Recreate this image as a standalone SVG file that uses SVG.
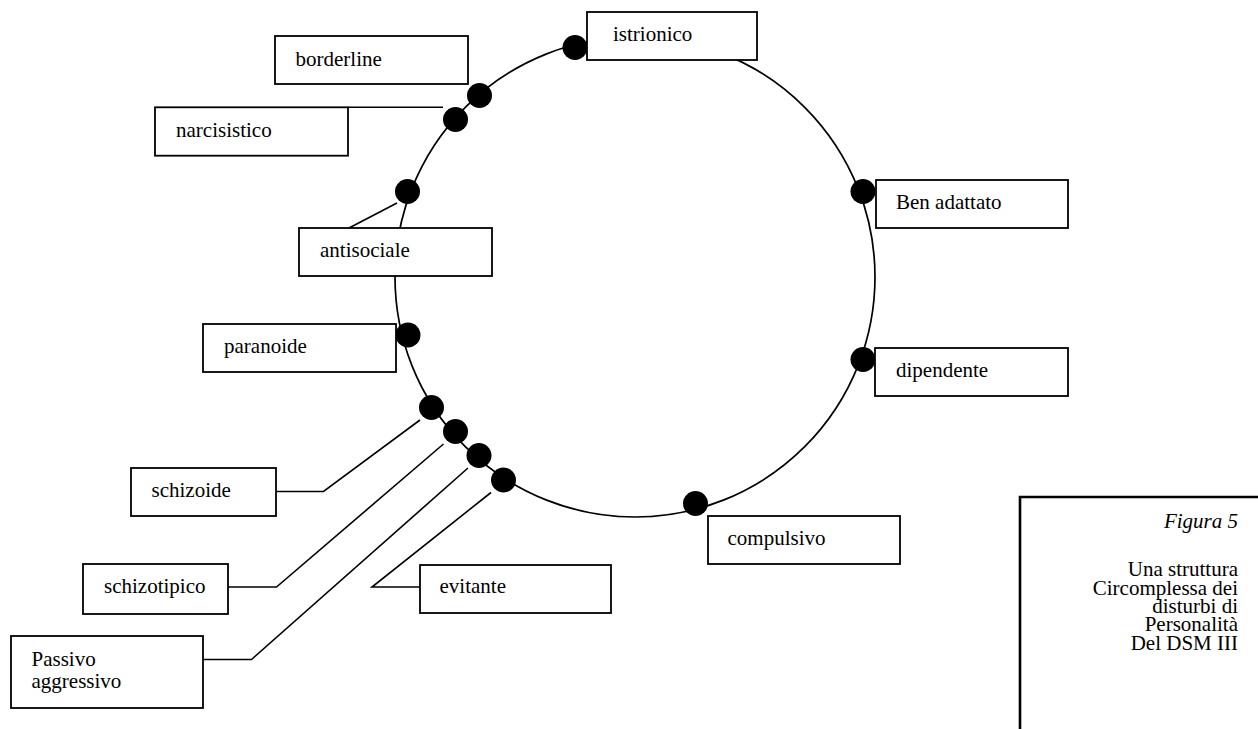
<svg xmlns="http://www.w3.org/2000/svg" width="1258" height="729" viewBox="0 0 1258 729">
<style>
  .box { fill: #ffffff; stroke: #000000; stroke-width: 1.8; }
  .dot { fill: #000000; stroke: none; }
  .lbl { font-family: "Liberation Serif", "Times New Roman", serif; font-size: 21px; fill: #000000; }
  .cap { font-family: "Liberation Serif", "Times New Roman", serif; font-size: 21px; fill: #000000; text-anchor: end; }
  .conn { fill: none; stroke: #000000; stroke-width: 1.6; }
</style>
<rect x="0" y="0" width="1258" height="729" fill="#ffffff"/>
<g id="ring">
  <circle cx="635" cy="277" r="240" fill="none" stroke="#000000" stroke-width="1.7"/>
</g>
<g id="connectors">
  <path class="conn" d="M348,107.3 H443"/>
  <path class="conn" d="M349,228 L397,203"/>
  <path class="conn" d="M276,491.5 H323.5 L420,420"/>
  <path class="conn" d="M228,587 H276.5 L443.5,444"/>
  <path class="conn" d="M203,659.5 H251.5 L468,468"/>
  <path class="conn" d="M491,492.5 L372,587 H420"/>
</g>
<g id="istrionico">
  <circle class="dot" cx="575" cy="47.5" r="12.5"/>
  <rect class="box" x="587" y="12" width="170" height="48"/>
  <text class="lbl" x="613" y="41">istrionico</text>
</g>
<g id="borderline">
  <circle class="dot" cx="479.5" cy="95.5" r="12.5"/>
  <rect class="box" x="275" y="36" width="193" height="48"/>
  <text class="lbl" x="295.5" y="65.5">borderline</text>
</g>
<g id="narcisistico">
  <circle class="dot" cx="455.5" cy="119.5" r="12.5"/>
  <rect class="box" x="155" y="107.3" width="193" height="48.4"/>
  <text class="lbl" x="176" y="136.5">narcisistico</text>
</g>
<g id="antisociale">
  <circle class="dot" cx="407.5" cy="191.5" r="12.5"/>
  <rect class="box" x="299" y="228" width="193" height="48"/>
  <text class="lbl" x="320" y="256.5">antisociale</text>
</g>
<g id="ben-adattato">
  <circle class="dot" cx="863" cy="191.5" r="12.5"/>
  <rect class="box" x="876" y="180" width="192" height="48"/>
  <text class="lbl" x="896" y="208.5">Ben adattato</text>
</g>
<g id="paranoide">
  <circle class="dot" cx="408" cy="335" r="12.5"/>
  <rect class="box" x="203" y="324" width="193" height="48"/>
  <text class="lbl" x="224" y="352.5">paranoide</text>
</g>
<g id="dipendente">
  <circle class="dot" cx="863" cy="359.5" r="12.5"/>
  <rect class="box" x="875" y="348" width="193" height="48"/>
  <text class="lbl" x="896" y="376.5">dipendente</text>
</g>
<g id="schizoide">
  <circle class="dot" cx="431.5" cy="407.5" r="12.5"/>
  <rect class="box" x="131" y="468" width="145" height="48"/>
  <text class="lbl" x="151.5" y="496.5">schizoide</text>
</g>
<g id="schizotipico">
  <circle class="dot" cx="455.5" cy="431.5" r="12.5"/>
  <rect class="box" x="83" y="564" width="145" height="50"/>
  <text class="lbl" x="104" y="592.5">schizotipico</text>
</g>
<g id="passivo-aggressivo">
  <circle class="dot" cx="479" cy="455.5" r="12.5"/>
  <rect class="box" x="11" y="636" width="192" height="72"/>
  <text class="lbl" x="31.5" y="665.5">Passivo</text>
  <text class="lbl" x="31.5" y="688">aggressivo</text>
</g>
<g id="evitante">
  <circle class="dot" cx="503.5" cy="480" r="12.5"/>
  <rect class="box" x="420" y="565" width="191" height="48"/>
  <text class="lbl" x="439.5" y="592.5">evitante</text>
</g>
<g id="compulsivo">
  <circle class="dot" cx="695.5" cy="503.5" r="12.5"/>
  <rect class="box" x="708" y="516" width="192" height="48"/>
  <text class="lbl" x="727.5" y="545">compulsivo</text>
</g>
<g id="caption">
  <path d="M1020,735 V497 H1265" fill="none" stroke="#000000" stroke-width="2.6"/>
  <text class="cap" x="1238" y="527.5" font-style="italic">Figura 5</text>
  <text class="cap" x="1238" y="576">Una struttura</text>
  <text class="cap" x="1238" y="594.5">Circomplessa dei</text>
  <text class="cap" x="1238" y="613">disturbi di</text>
  <text class="cap" x="1238" y="631">Personalità</text>
  <text class="cap" x="1238" y="649.5">Del DSM III</text>
</g>
</svg>
